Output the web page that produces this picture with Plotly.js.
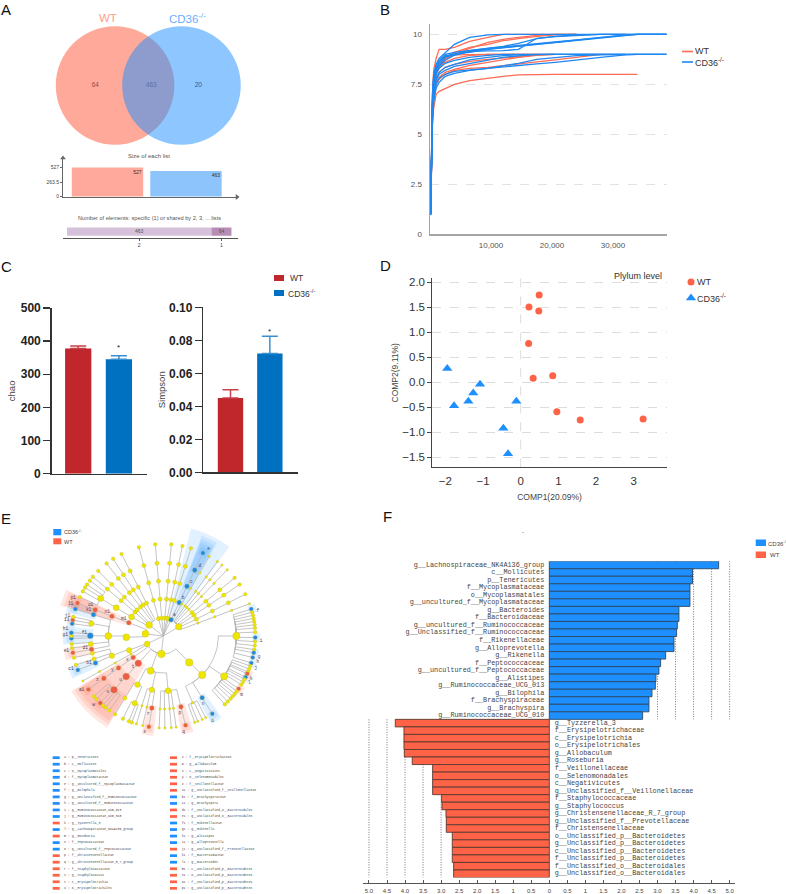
<!DOCTYPE html>
<html>
<head>
<meta charset="utf-8">
<script src="https://cdn.plot.ly/plotly-3.0.1.min.js"></script>
<style>html,body{margin:0;padding:0;background:#fff}#chart{width:786px;height:894px}</style>
</head>
<body>
<div id="chart"></div>
<script>
const WIDTH = 786, HEIGHT = 894;
const SANS = 'Liberation Sans, Arial, sans-serif';
const MONO = 'Liberation Mono, monospace';
const RED = '#ff6347', BLUE = '#1e8fff', BAR_RED = '#c0272d', BAR_BLUE = '#0070c0';
const CD36 = 'CD36<sup>-/-</sup>';

/* A: shared-elements diagram */
const vennCounts = [64, 463, 20];
const listSizes = [527, 463];
const sharedCounts = [463, 64];
const sharedLabels = ['2', '1'];

/* B: rarefaction curves */
const rareDepth = [100,250,400,600,1000,1500,2500,4000,6500,9500,12000,14500,17500,20500,24000,28000,32000,34000,38800];
const wtCurves = [
 [1,3.5,5.5,6.3,7.0,7.15,7.3,7.5,7.68,7.82,7.9,7.97,8,8,8,8,8,8,null],
 [1,5,7,8.2,8.8,9.25,9.25,9.35,9.65,9.85,10,10,10,10,10,null,null,null,null],
 [1,4.5,6.5,7.5,8.1,8.4,8.8,8.97,9,9,9,9,9,9,null,null,null,null,null],
 [1,4,6,7.2,7.8,8.1,8.35,8.5,8.65,8.75,8.82,8.9,8.97,9,null,null,null,null,null],
 [1,4,5.8,6.8,7.5,7.75,8,8.2,8.3,8.35,8.43,8.5,8.6,8.72,8.85,9,null,null,null],
 [1,4.5,6.5,7.6,8.2,8.5,8.8,9.1,9.35,9.5,9.68,9.78,9.9,9.97,10,null,null,null,null],
 [1,4.2,6.2,7.4,8,8.3,8.6,8.8,8.95,9,9,9,9,null,null,null,null,null,null],
 [1,4.3,6.3,7.5,8.1,8.35,8.7,9,9.3,9.6,9.75,9.85,9.95,10,10,null,null,null,null],
 [1,4,6,7,7.6,7.85,8.1,8.25,8.45,8.6,8.72,8.85,8.95,9,null,null,null,null,null]
];
const koCurves = [
 [1,5,7,8,8.5,8.8,9.1,9.5,9.85,9.97,10,10,10,10,10,10,10,10,10],
 [1,4.5,6.5,7.7,8.3,8.6,8.9,9,9.18,9.3,9.38,9.45,9.55,9.62,9.72,9.85,9.97,10,10],
 [1,4.4,6.4,7.6,8.2,8.5,8.85,8.98,9.14,9.26,9.34,9.42,9.52,9.6,9.7,9.84,9.96,10,10],
 [1,4.6,6.6,7.8,8.3,8.65,8.92,9.02,9.1,9.25,9.33,9.4,9.5,9.58,9.68,9.82,9.95,10,10],
 [1,4.3,6.3,7.5,8.1,8.4,8.7,8.95,9.15,9.17,9.18,9.25,9.8,9.88,9.95,10,10,null,null],
 [1,4,6,7.2,7.8,8.1,8.35,8.5,8.72,8.85,8.93,8.97,9,9,9,9,9,9,9],
 [1,3.8,5.8,6.9,7.5,7.8,8,8.15,8.22,8.33,8.4,8.45,8.52,8.6,8.7,8.85,8.97,9,9],
 [1,3.5,5.5,6.6,7.3,7.6,7.9,8.05,8.2,8.3,8.42,8.55,8.75,8.85,8.93,8.97,9,9,9],
 [1,4.2,6.2,7.4,8,8.3,8.55,8.7,8.85,8.95,9,9,9,9,9,9,9,9,null],
 [1,4.8,6.8,7.9,8.4,8.7,9,9.1,9.2,9.3,9.4,9.55,9.78,9.9,9.97,10,10,10,10],
 [1,4,6,7.1,7.7,8,8.2,8.4,8.55,8.7,8.85,8.92,9,9,9,9,9,null,null]
];

/* C: alpha diversity */
const chaoMean = [378, 345], chaoErr = [7, 11];
const simpsonMean = [0.045, 0.072], simpsonErr = [0.005, 0.0105];

/* D: sPLS-DA scores */
const wtComp1 = [0.49,0.22,0.48,0.21,0.85,0.33,0.96,1.58,3.25];
const wtComp2 = [1.74,1.5,1.42,0.77,0.127,0.073,-0.593,-0.76,-0.74];
const koComp1 = [-1.95,-1.08,-1.26,-1.39,-1.77,-0.115,-0.46,-0.336];
const koComp2 = [0.27,-0.047,-0.22,-0.387,-0.473,-0.387,-0.927,-1.433];

/* E: cladogram (leaf values are compass bearings of the tips) */
const N = (...k) => ({k});
const A = (a, ...k) => ({a, k});
const colored = c => (lab, ...k) => (k.length === 1 && typeof k[0] === 'number') ? {a:k[0], c, lab, leaf:true} : {k, c, lab};
const B = colored('b'), R = colored('r');
const thinTips = [30,36,39.6,44,69.5,240.8,152.5,155,158,160,172,175,179,182.6,193,197];
const cladeTree = [
 A(308, N(N(N(295,299,301.7,304,307))), N(N(N(310))), N(N(N(315))), N(N(N(322))), N(N(N(327))), N(N(N(333)))),
 N(N(N(N(-15.4)))), N(N(N(N(-5)))), N(N(N(N(5)))), N(N(N(N(12)))), N(N(N(N(17.5)))),
 B('a',B('b',B('c',B('d',B('e',25.5))))),
 A(59, N(N(N(30))), N(N(N(36))), N(N(N(39.6))), N(N(N(44))), N(N(N(50.8))), N(N(N(56))), N(N(N(63))), N(N(N(69.5)))),
 A(186,
  A(135.6, A(135,
    N(B('f',73),75,77,79,81,83,85,87.6,B('i',91),93.5,96,98.5,B('g',100.5),B('h',103.5),B('j',107)),
    N(109,111,113,R('k',114.2),B('l',116.6),118,120,122,R('m',125),127,129,131,133,135.5,138),
    B('n',B('o',147.8)),
    N(152.5,155,158,160))),
  A(200,
    A(175, R('p',R('q',166)), N(172), N(175), N(179), N(182.6)),
    A(192, R('r',R('s',189)), N(193), N(197)),
    A(208, N(200,202,206), N(211.7))),
  R('t',R('u',R('v',216,219,221,R('w',223.3),226.7,229))),
  R('x',R('y',R('z',R('a1',234.5))))),
 A(244, N(N(N(240.8))), A(247.5, A(249, B('b1',B('c1',248.3)), N(251.7), N(256.3)))),
 A(277,
  A(268, A(270,
    R('d1',R('e1',259.5)),
    N(262.5,265),
    B('f1',B('g1',268.5),270,B('h1',272)),
    N(B('i1',277.7),R('j1',280),282),
    B('k1',B('l1',287)))),
  R('m1',R('n1',R('o1',R('p1',291)))))
];
const cladeRadii = [0,18,37,55,73,92];

const keyCol1 = ['a : p__Tenericutes','b : c__Mollicutes','c : o__Mycoplasmatales','d : f__Mycoplasmataceae','e : g__uncultured_f__Mycoplasmataceae','f : g__Bilophila','g : g__Unclassified_f__Ruminococcaceae','h : g__uncultured_f__Ruminococcaceae','i : g__Ruminococcaceae_UCG_013','j : g__Ruminococcaceae_UCG_010','k : g__Tyzzerella_3','l : g__Lachnospiraceae_NK4A136_group','m : g__Roseburia','n : f__Peptococcaceae','o : g__uncultured_f__Peptococcaceae','p : f__Christensenellaceae','q : g__Christensenellaceae_R_7_group','r : f__Staphylococcaceae','s : g__Staphylococcus','t : c__Erysipelotrichia','u : o__Erysipelotrichales'];
const keyCol2 = ['v : f__Erysipelotrichaceae','w : g__Allobaculum','x : c__Negativicutes','y : o__Selenomonadales','z : f__Veillonellaceae','a1 : g__Unclassified_f__Veillonellaceae','b1 : f__Brachyspiraceae','c1 : g__Brachyspira','d1 : f__Unclassified_o__Bacteroidales','e1 : g__Unclassified_o__Bacteroidales','f1 : f__Rikenellaceae','g1 : g__Rikenella','h1 : g__Alistipes','i1 : g__Alloprevotella','j1 : g__Unclassified_f__Prevotellaceae','k1 : f__Bacteroidaceae','l1 : g__Bacteroides','m1 : c__Unclassified_p__Bacteroidetes','n1 : o__Unclassified_p__Bacteroidetes','o1 : f__Unclassified_p__Bacteroidetes','p1 : g__Unclassified_p__Bacteroidetes'];
const keyGroup1 = 'bbbbbbbbbbrbrbbrrrrrr'.split('');
const keyGroup2 = 'rrrrrrbbrrbbbbrbbrrrr'.split('');

/* F: LDA scores */
const koTaxa = ['g__Lachnospiraceae_NK4A136_group','c__Mollicutes','p__Tenericutes','f__Mycoplasmataceae','o__Mycoplasmatales','g__uncultured_f__Mycoplasmataceae','g__Bacteroides','f__Bacteroidaceae','g__uncultured_f__Ruminococcaceae','g__Unclassified_f__Ruminococcaceae','f__Rikenellaceae','g__Alloprevotella','g__Rikenella','f__Peptococcaceae','g__uncultured_f__Peptococcaceae','g__Alistipes','g__Ruminococcaceae_UCG_013','g__Bilophila','f__Brachyspiraceae','g__Brachyspira','g__Ruminococcaceae_UCG_010'];
const koLda = [4.695,3.97,3.97,3.9,3.9,3.9,3.595,3.595,3.55,3.53,3.457,3.457,3.226,3.087,3.04,2.957,2.94,2.847,2.763,2.763,2.588];
const wtTaxa = ['g__Tyzzerella_3','f__Erysipelotrichaceae','c__Erysipelotrichia','o__Erysipelotrichales','g__Allobaculum','g__Roseburia','f__Veillonellaceae','o__Selenomonadales','c__Negativicutes','g__Unclassified_f__Veillonellaceae','f__Staphylococcaceae','g__Staphylococcus','g__Christensenellaceae_R_7_group','g__Unclassified_f__Prevotellaceae','f__Christensenellaceae','o__Unclassified_p__Bacteroidetes','g__Unclassified_p__Bacteroidetes','c__Unclassified_p__Bacteroidetes','f__Unclassified_p__Bacteroidetes','f__Unclassified_o__Bacteroidales','g__Unclassified_o__Bacteroidales'];
const wtLda = [4.27,4.03,4.03,4.03,4.02,3.8,3.235,3.235,3.235,3.235,2.985,2.976,2.865,2.856,2.856,2.69,2.69,2.69,2.69,2.652,2.652];
const ldaGuides = [3,3.5,4,4.5,5];
const ldaTicks = [-5,-4.5,-4,-3.5,-3,-2.5,-2,-1.5,-1,-0.5,0,0.5,1,1.5,2,2.5,3,3.5,4,4.5,5];
const ldaTickText = ['5.0','4.5','4.0','3.5','3.0','2.5','2.0','1.5','1','0.5','0','0.5','1','1.5','2.0','2.5','3.0','3.5','4.0','4.5','5.0'];

/* ---------- layout helpers ---------- */
const domX = (a,b) => [a/WIDTH, b/WIDTH];
const domY = (top,bottom) => [1-bottom/HEIGHT, 1-top/HEIGHT];
const hidden = (domain, range, anchor) => ({domain, range, visible:false, fixedrange:true, anchor});
const traces = [], annotations = [], shapes = [];
function label(px, py, text, size, color, extra) {
  annotations.push(Object.assign({xref:'paper', yref:'paper', x:px/WIDTH, y:1-py/HEIGHT, text, showarrow:false,
    font:{size, color:color||'#333', family:SANS}, xanchor:'center', yanchor:'middle', borderpad:0, borderwidth:0}, extra||{}));
}
function legendLine(x0,x1,py,color){ shapes.push({type:'line',xref:'paper',yref:'paper',x0:x0/WIDTH,x1:x1/WIDTH,y0:1-py/HEIGHT,y1:1-py/HEIGHT,line:{color,width:1.6}}); }
function legendRect(x0,x1,y0,y1,color){ shapes.push({type:'rect',xref:'paper',yref:'paper',x0:x0/WIDTH,x1:x1/WIDTH,y0:1-y0/HEIGHT,y1:1-y1/HEIGHT,fillcolor:color,line:{width:0}}); }

const layout = {width:WIDTH, height:HEIGHT, margin:{l:0,r:0,t:0,b:0,pad:0}, paper_bgcolor:'#fff', plot_bgcolor:'rgba(0,0,0,0)',
  showlegend:false, barmode:'overlay', hovermode:false, font:{family:SANS, color:'#333'}};

[['A',6,9],['B',385,9],['C',6,266.5],['D',385.5,265.5],['E',6,518],['F',387,516]].forEach(p => label(p[1],p[2],p[0],15,'#111'));

/* ---------- A ---------- */
layout.xaxis = hidden(domX(50,250), [-98.25,101.75], 'y');
layout.yaxis = hidden(domY(20,150), [-64.5,65.5], 'x');
const vennR = 59.3, vennC = 33.2;
shapes.push({type:'circle',xref:'x',yref:'y',x0:-vennC-vennR,x1:-vennC+vennR,y0:-vennR,y1:vennR,fillcolor:'rgba(255,99,71,0.55)',line:{width:0}});
shapes.push({type:'circle',xref:'x',yref:'y',x0:vennC-vennR,x1:vennC+vennR,y0:-vennR,y1:vennR,fillcolor:'rgba(30,144,255,0.5)',line:{width:0}});
traces.push({type:'scatter',mode:'text',xaxis:'x',yaxis:'y',x:[-53,3,50],y:[0,0,0],text:vennCounts.map(String),textfont:{size:6.5,color:'#222'},hoverinfo:'skip'});
label(108,18,'WT',11.5,'#ff9c8f');
label(187,18,CD36,11.5,'#6aaeff');

layout.xaxis2 = {domain:domX(63,237),range:[-0.567,1.65],anchor:'y2',showgrid:false,zeroline:false,showticklabels:false,ticks:'',linecolor:'#666',linewidth:1,fixedrange:true};
layout.yaxis2 = {domain:domY(158,197),range:[-9,700],anchor:'x2',showgrid:false,zeroline:false,tickvals:[0,263.5,527],ticktext:['0','263.5','527'],ticks:'outside',ticklen:2,tickcolor:'#666',tickfont:{size:5,color:'#444'},linecolor:'#666',linewidth:1,fixedrange:true};
traces.push({type:'bar',xaxis:'x2',yaxis:'y2',x:[0,1],y:listSizes,width:0.91,marker:{color:['#ffa99c','#8cc4fb']},hoverinfo:'skip'});
traces.push({type:'scatter',mode:'text',xaxis:'x2',yaxis:'y2',x:[0.38,1.38],y:[listSizes[0]-90,listSizes[1]-90],text:listSizes.map(String),textfont:{size:5,color:'#333'},hoverinfo:'skip'});
traces.push({type:'scatter',mode:'markers',xaxis:'x2',yaxis:'y2',x:[1.65],y:[-9],cliponaxis:false,marker:{symbol:'triangle-right',size:5,color:'#666'},hoverinfo:'skip'});
traces.push({type:'scatter',mode:'markers',xaxis:'x2',yaxis:'y2',x:[-0.567],y:[700],cliponaxis:false,marker:{symbol:'triangle-up',size:5,color:'#666'},hoverinfo:'skip'});
label(149,156,'Size of each list',6,'#555');

layout.xaxis3 = {domain:domX(63,238),range:[-12.8,548],anchor:'y3',showgrid:false,zeroline:false,tickvals:[sharedCounts[0]/2,sharedCounts[0]+sharedCounts[1]/2],ticktext:sharedLabels,ticks:'outside',ticklen:2,tickcolor:'#555',tickfont:{size:5,color:'#444'},linecolor:'#555',linewidth:1,fixedrange:true};
layout.yaxis3 = hidden(domY(226,237.5),[0,1],'x3');
traces.push({type:'bar',orientation:'h',xaxis:'x3',yaxis:'y3',y:[0.52],x:[sharedCounts[0]],base:[0],width:0.72,marker:{color:'#d5c1d9'},hoverinfo:'skip'});
traces.push({type:'bar',orientation:'h',xaxis:'x3',yaxis:'y3',y:[0.52],x:[sharedCounts[1]],base:[sharedCounts[0]],width:0.72,marker:{color:'#b78db5'},hoverinfo:'skip'});
traces.push({type:'scatter',mode:'text',xaxis:'x3',yaxis:'y3',x:[sharedCounts[0]/2,sharedCounts[0]+sharedCounts[1]/2],y:[0.52,0.52],text:sharedCounts.map(String),textfont:{size:5,color:'#555'},hoverinfo:'skip'});
label(149,218,'Number of elements: specific (1) or shared by 2, 3, ... lists',5.6,'#555');

/* ---------- B ---------- */
layout.xaxis4 = {domain:domX(430,666.7),range:[0,38800],anchor:'y4',showgrid:false,zeroline:false,tickvals:[10000,20000,30000],ticktext:['10,000','20,000','30,000'],ticks:'',ticklabelstandoff:3,tickfont:{size:8,color:'#555'},linecolor:'#a5a5a5',linewidth:1.5,fixedrange:true};
layout.yaxis4 = {domain:domY(24.3,234.3),range:[0,10.5],anchor:'x4',showgrid:true,gridcolor:'#e2e2e2',griddash:'dash',gridwidth:1,zeroline:false,tickvals:[0,2.5,5,7.5,10],ticktext:['0','2.5','5','7.5','10'],ticks:'',ticklabelstandoff:5,tickfont:{size:8,color:'#555'},linecolor:'#a5a5a5',linewidth:1.5,fixedrange:true};
wtCurves.forEach(y => traces.push({type:'scatter',mode:'lines',xaxis:'x4',yaxis:'y4',x:rareDepth,y,line:{color:'#ff6b55',width:1.3},hoverinfo:'skip'}));
koCurves.forEach(y => traces.push({type:'scatter',mode:'lines',xaxis:'x4',yaxis:'y4',x:rareDepth,y,line:{color:'#1e88f0',width:1.3},hoverinfo:'skip'}));
legendLine(682,693,51.5,'#ff6b55'); legendLine(682,693,62,'#1e88f0');
label(695,51.5,'WT',9,'#333',{xanchor:'left'});
label(695,62,CD36,9,'#333',{xanchor:'left'});

/* ---------- C ---------- */
function barAxes(n, xd, xr, yd, yr, ticks, title, fmt, standoff) {
  layout['xaxis'+n] = {domain:xd,range:xr,anchor:'y'+n,showgrid:false,zeroline:false,showticklabels:false,ticks:'',linecolor:'#333',linewidth:1.5,fixedrange:true};
  layout['yaxis'+n] = {domain:yd,range:yr,anchor:'x'+n,showgrid:false,zeroline:false,tickvals:ticks,tickformat:fmt,ticks:'outside',ticklen:7,tickwidth:1.5,tickcolor:'#333',tickfont:{size:12,color:'#222',weight:700},linecolor:'#333',linewidth:1.5,fixedrange:true,title:{text:title,font:{size:9.5,color:'#444'},standoff}};
}
barAxes(5,domX(51.7,147),[-0.651,1.69],domY(308,473.7),[0,500],[0,100,200,300,400,500],'chao','d',3);
barAxes(6,domX(203.3,297.7),[-0.691,1.708],domY(307.3,472.3),[0,0.1],[0,0.02,0.04,0.06,0.08,0.1],'Simpson','.2f',1);
function meanBars(n, means, errs) {
  [BAR_RED, BAR_BLUE].forEach((color,i) => traces.push({type:'bar',xaxis:'x'+n,yaxis:'y'+n,x:[i],y:[means[i]],width:0.645,marker:{color},
    error_y:{type:'data',symmetric:false,array:[errs[i]],arrayminus:[0],color:i?'#3a8fd0':'#c8404a',thickness:1.5,width:8},hoverinfo:'skip'}));
}
meanBars(5, chaoMean, chaoErr);
meanBars(6, simpsonMean, simpsonErr);
label(118,347,'*',8,'#222'); label(269,331.5,'*',8,'#222');
legendRect(274,284,275,281,BAR_RED); legendRect(274,284,290,296,BAR_BLUE);
label(290,278,'WT',8.5,'#333',{xanchor:'left'});
label(288,293,CD36,8.5,'#333',{xanchor:'left'});

/* ---------- D ---------- */
layout.xaxis7 = {domain:domX(432.3,666.7),range:[-2.347,3.876],anchor:'y7',showgrid:false,zeroline:false,tickvals:[-2,-1,0,1,2,3],ticks:'',ticklabelstandoff:3,tickfont:{size:11.5,color:'#333'},linecolor:'#444',linewidth:1,fixedrange:true,
  title:{text:'COMP1(20.09%)',font:{size:8.5,color:'#444'},standoff:7}};
layout.yaxis7 = {domain:domY(278.3,467.3),range:[-1.706,2.074],anchor:'x7',showgrid:true,gridcolor:'#dcdcdc',griddash:'dash',gridwidth:1,zeroline:false,tickvals:[-1.5,-1,-0.5,0,0.5,1,1.5,2],tickformat:'.1f',ticks:'outside',ticklen:4,tickcolor:'#444',tickfont:{size:11.5,color:'#333'},linecolor:'#444',linewidth:1,fixedrange:true,
  title:{text:'COMP2(9.11%)',font:{size:8.5,color:'#444'},standoff:2}};
shapes.push({type:'line',xref:'x7',yref:'y7',x0:0,x1:0,y0:-1.706,y1:2.074,line:{color:'#dcdcdc',width:1,dash:'dash'},layer:'below'});
traces.push({type:'scatter',mode:'markers',xaxis:'x7',yaxis:'y7',x:wtComp1,y:wtComp2,marker:{color:RED,size:7,symbol:'circle'},hoverinfo:'skip'});
traces.push({type:'scatter',mode:'markers',xaxis:'x7',yaxis:'y7',x:koComp1,y:koComp2,marker:{color:BLUE,size:9,symbol:'triangle-up'},hoverinfo:'skip'});
label(638,276,'Plylum level',9,'#333');
traces.push({type:'scatter',mode:'markers',xaxis:'x11',yaxis:'y11',x:[0],y:[1],marker:{color:RED,size:7,symbol:'circle'},hoverinfo:'skip'});
traces.push({type:'scatter',mode:'markers',xaxis:'x11',yaxis:'y11',x:[0],y:[0],marker:{color:BLUE,size:9,symbol:'triangle-up'},hoverinfo:'skip'});
layout.xaxis11 = hidden(domX(681,701),[-1,1],'y11');
layout.yaxis11 = hidden(domY(274,306),[-0.5,1.5],'x11');
label(697,282,'WT',9,'#333',{xanchor:'left'});
label(697,298,CD36,9,'#333',{xanchor:'left'});

/* ---------- E: cladogram ---------- */
layout.xaxis8 = hidden(domX(20,310),[-143.3,146.7],'y8');
layout.yaxis8 = hidden(domY(515,755),[-119,121],'x8');
const rad = d => d*Math.PI/180;
const px = (r,b) => r*Math.sin(rad(b));
const py = (r,b) => r*Math.cos(rad(b));
const nodes = [];
function visit(node, depth) {
  if (typeof node === 'number') node = {a:node, leaf:true};
  const rec = {depth, c:node.c||'y', lab:node.lab};
  if (node.leaf) {
    rec.a = node.a; rec.min = node.a; rec.max = node.a; rec.tips = [node.a]; rec.kids = [];
  } else {
    rec.kids = node.k.map(k => visit(k, depth+1));
    rec.min = Math.min(...rec.kids.map(k => k.min));
    rec.max = Math.max(...rec.kids.map(k => k.max));
    rec.tips = [].concat(...rec.kids.map(k => k.tips));
    rec.a = node.a !== undefined ? node.a : (rec.kids[0].a + rec.kids[rec.kids.length-1].a)/2;
  }
  nodes.push(rec);
  return rec;
}
const rootKids = cladeTree.map(n => visit(n,1));
const edgeX = [], edgeY = [];
function addEdges(rec, parentR, parentA) {
  const r = cladeRadii[rec.depth];
  edgeX.push(px(r,rec.a), px(parentR,rec.a)); edgeY.push(py(r,rec.a), py(parentR,rec.a));
  const steps = Math.max(1, Math.ceil(Math.abs(parentA-rec.a)/3));
  for (let i=1;i<=steps;i++) { const b = rec.a + (parentA-rec.a)*i/steps; edgeX.push(px(parentR,b)); edgeY.push(py(parentR,b)); }
  edgeX.push(null); edgeY.push(null);
  rec.kids.forEach(k => addEdges(k, r, rec.a));
}
rootKids.forEach(k => addEdges(k, 0, k.a));
const wedgeHalf = [0,11,4.5,4,3.5,2.5];
['b','r'].forEach(color => [1,2,3,4,5].forEach(depth => {
  const xs = [], ys = [];
  nodes.filter(n => n.c === color && n.depth === depth).forEach(n => {
    const h = wedgeHalf[depth], a0 = n.min-h, a1 = n.max+h;
    const rIn = Math.max(cladeRadii[depth]-3, 8), rOut = 97+(5-depth)*3.5;
    const steps = Math.ceil((a1-a0)/2);
    for (let i=0;i<=steps;i++){ const b=a0+(a1-a0)*i/steps; xs.push(px(rOut,b)); ys.push(py(rOut,b)); }
    for (let i=steps;i>=0;i--){ const b=a0+(a1-a0)*i/steps; xs.push(px(rIn,b)); ys.push(py(rIn,b)); }
    xs.push(null); ys.push(null);
  });
  if (xs.length) traces.push({type:'scatter',mode:'lines',xaxis:'x8',yaxis:'y8',x:xs,y:ys,fill:'toself',fillcolor:color==='b'?'rgba(30,143,255,0.13)':'rgba(255,99,71,0.15)',line:{width:0},hoverinfo:'skip'});
}));
traces.push({type:'scatter',mode:'lines',xaxis:'x8',yaxis:'y8',x:edgeX,y:edgeY,line:{color:'#b5b5b5',width:0.8},hoverinfo:'skip',connectgaps:false});
const nodeSize = n => n.tips.every(t => thinTips.includes(t)) ? 2.4 : Math.min(7.5, (n.kids.length ? 4.2 : 3.6) + Math.log2(n.tips.length)*0.8) + (n.c==='y'?0:0.4);
const nodeColor = {y:'#efe600', b:'#1e88e5', r:'#ee5a45'};
traces.push({type:'scatter',mode:'markers',xaxis:'x8',yaxis:'y8',x:nodes.map(n=>px(cladeRadii[n.depth],n.a)),y:nodes.map(n=>py(cladeRadii[n.depth],n.a)),
  marker:{size:nodes.map(nodeSize),opacity:1,color:nodes.map(n=>nodeColor[n.c]),line:{width:0.3,color:'#b5ad40'}},hoverinfo:'skip'});
const labelled = nodes.filter(n => n.lab);
traces.push({type:'scatter',mode:'text',xaxis:'x8',yaxis:'y8',x:labelled.map(n=>px(cladeRadii[n.depth]+6,n.a+2)),y:labelled.map(n=>py(cladeRadii[n.depth]+6,n.a+2)),text:labelled.map(n=>n.lab),textfont:{size:4.5,color:'#445',family:MONO},hoverinfo:'skip'});
legendRect(53.3,61.3,529,535.3,BLUE); legendRect(53.3,61.3,538.3,544.3,RED);
label(64,532,'CD36<sup>-/-</sup>',5.5,'#444',{xanchor:'left'});
label(64,541.5,'WT',5.5,'#444',{xanchor:'left'});

/* cladogram key */
layout.xaxis9 = hidden(domX(40,310),[40,310],'y9');
layout.yaxis9 = hidden(domY(752,892),[20.56,-0.87],'x9');
[[keyCol1,keyGroup1,52.7,64],[keyCol2,keyGroup2,170,181.7]].forEach(([texts,groups,keyX,textX]) => {
  const rows = texts.map((_,i)=>i);
  traces.push({type:'bar',orientation:'h',xaxis:'x9',yaxis:'y9',y:rows,x:rows.map(()=>7),base:rows.map(()=>keyX),width:0.42,marker:{color:groups.map(g=>g==='b'?BLUE:RED)},hoverinfo:'skip'});
  traces.push({type:'scatter',mode:'text',xaxis:'x9',yaxis:'y9',x:rows.map(()=>textX),y:rows,text:texts,textposition:'middle right',textfont:{size:3.2,color:'#444',family:MONO},hoverinfo:'skip'});
});

/* ---------- F ---------- */
layout.xaxis10 = {domain:domX(363.3,735.3),range:[-5.157,5.157],anchor:'free',position:1-882.7/HEIGHT,side:'bottom',showgrid:false,zeroline:false,tickvals:ldaTicks,ticktext:ldaTickText,ticks:'inside',ticklen:3,ticklabelstandoff:2,tickcolor:'#555',tickfont:{size:6,color:'#444'},linecolor:'#555',linewidth:1,fixedrange:true};
layout.yaxis10 = hidden(domY(561.2,877.5),[41.5,-0.5],'x10');
const koRows = koLda.map((_,i)=>i), wtRows = wtLda.map((_,i)=>i+koLda.length);
ldaGuides.forEach(v => {
  shapes.push({type:'line',xref:'x10',yref:'y10',x0:v,x1:v,y0:-0.5,y1:20.5,line:{color:'#666',width:0.9,dash:'1px,1.5px'},layer:'below'});
  shapes.push({type:'line',xref:'x10',yref:'y10',x0:-v,x1:-v,y0:20.5,y1:41.5,line:{color:'#666',width:0.9,dash:'1px,1.5px'},layer:'below'});
});
traces.push({type:'bar',orientation:'h',xaxis:'x10',yaxis:'y10',y:koRows,x:koLda,width:1,marker:{color:BLUE,line:{color:'#2b4a66',width:0.9}},hoverinfo:'skip'});
traces.push({type:'bar',orientation:'h',xaxis:'x10',yaxis:'y10',y:wtRows,x:wtLda.map(v=>-v),width:1,marker:{color:RED,line:{color:'#5a3a30',width:0.9}},hoverinfo:'skip'});
traces.push({type:'scatter',mode:'text',xaxis:'x10',yaxis:'y10',x:koRows.map(()=>-0.14),y:koRows,text:koTaxa,textposition:'middle left',textfont:{size:6.8,color:'#444',family:MONO},hoverinfo:'skip',cliponaxis:false});
traces.push({type:'scatter',mode:'text',xaxis:'x10',yaxis:'y10',x:wtRows.map(()=>0.15),y:wtRows,text:wtTaxa,textposition:'middle right',textfont:{size:6.8,color:'#444',family:MONO},hoverinfo:'skip',cliponaxis:false});
legendRect(755.7,766,539.5,546,BLUE); legendRect(755.7,766,551.5,558,RED);
label(768,542.5,CD36,6,'#444',{xanchor:'left'});
label(770,554.5,'WT',6,'#444',{xanchor:'left'});
label(523.3,532,'-',6,'#555');

layout.annotations = annotations;
layout.shapes = shapes;
Plotly.newPlot('chart', traces, layout, {staticPlot:true, displayModeBar:false, responsive:false});
</script>
</body>
</html>
